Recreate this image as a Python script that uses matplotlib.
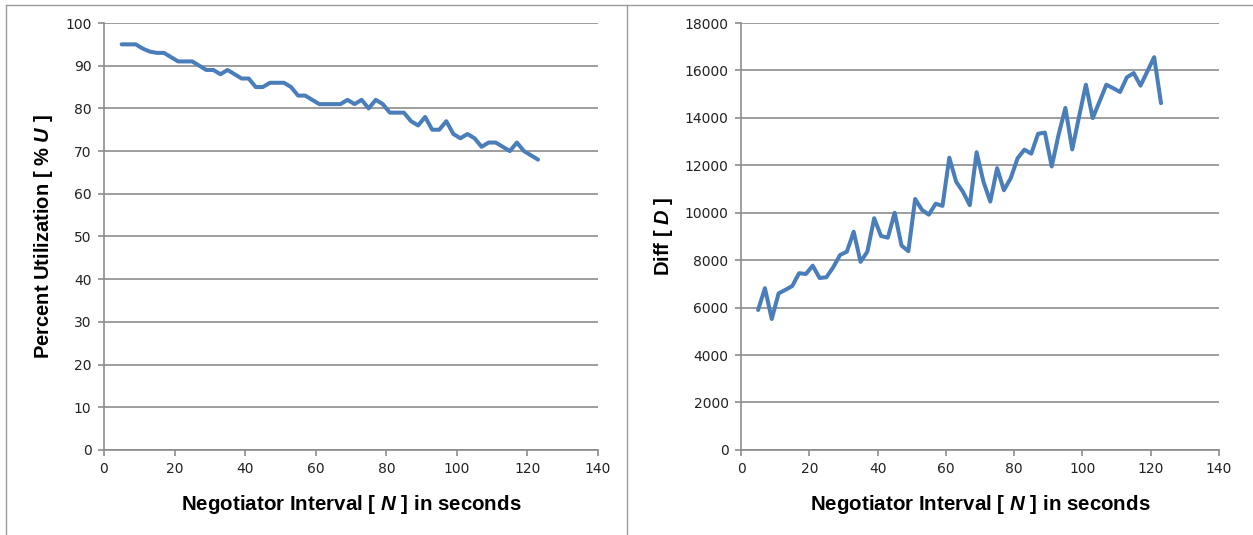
import matplotlib
matplotlib.use('Agg')
import matplotlib.pyplot as plt
from matplotlib.lines import Line2D

# negotiator interval N (seconds)
interval = list(range(5, 124, 2))

# percent utilization U for each interval
utilization = [95, 95, 95, 94, 93.3, 93, 93, 92, 91, 91,
               91, 90, 89, 89, 88, 89, 88, 87, 87, 85,
               85, 86, 86, 86, 85, 83, 83, 82, 81, 81,
               81, 81, 82, 81, 82, 80, 82, 81, 79, 79,
               79, 77, 76, 78, 75, 75, 77, 74, 73, 74,
               73, 71, 72, 72, 71, 70, 72, 70, 69, 68]

# diff D for each interval
diff = [5900, 6820, 5520, 6600, 6750, 6910, 7450, 7420, 7770, 7250,
        7280, 7700, 8220, 8360, 9200, 7930, 8360, 9770, 9020, 8950,
        10000, 8620, 8380, 10580, 10120, 9920, 10380, 10290, 12320, 11310,
        10880, 10320, 12550, 11310, 10470, 11880, 10950, 11460, 12300, 12660,
        12490, 13330, 13380, 11950, 13290, 14420, 12670, 14050, 15400, 13990,
        14690, 15400, 15250, 15090, 15710, 15890, 15360, 15960, 16560, 14620]

x_ticks = list(range(0, 141, 20))
util_ticks = list(range(0, 101, 10))
diff_ticks = list(range(0, 18001, 2000))

LINE = '#4a7ebb'
GRID = '#8c8c8c'
LABEL_FONT = ['Liberation Sans', 'DejaVu Sans']

plt.rcParams['font.family'] = ['DejaVu Sans']
plt.rcParams['mathtext.fontset'] = 'custom'
plt.rcParams['mathtext.it'] = 'Liberation Sans:italic:bold'
plt.rcParams['mathtext.rm'] = 'Liberation Sans:bold'

fig = plt.figure(figsize=(12.53, 5.35), dpi=100)


def style_axis(ax, xs, ys, yticks, ymax, ylabel):
    ax.plot(xs, ys, color=LINE, linewidth=2.9, solid_joinstyle='round',
            solid_capstyle='round', zorder=3)
    ax.set_xlim(0, 140)
    ax.set_ylim(0, ymax)
    ax.set_xticks(x_ticks)
    ax.set_yticks(yticks)
    ax.yaxis.grid(True, color=GRID, linewidth=1.2)
    ax.set_axisbelow(True)
    for side in ('top', 'right'):
        ax.spines[side].set_visible(False)
    for side in ('left', 'bottom'):
        ax.spines[side].set_color(GRID)
        ax.spines[side].set_linewidth(1.2)
    ax.tick_params(axis='both', direction='out', length=4, width=1.2,
                   color=GRID, labelsize=10, labelcolor='#222222', pad=5)
    ax.set_xlabel(r'Negotiator Interval [ $\mathit{N}$ ] in seconds',
                  fontsize=14.8, fontweight='bold', family=LABEL_FONT,
                  labelpad=12)
    ax.set_ylabel(ylabel, fontsize=14.5, fontweight='bold',
                  family=LABEL_FONT, labelpad=7)


ax1 = fig.add_axes([0.083, 0.159, 0.3943, 0.798])
style_axis(ax1, interval, utilization, util_ticks, 100,
           r'Percent Utilization [ % $\mathit{U}$ ]')

ax2 = fig.add_axes([0.5914, 0.159, 0.3815, 0.798])
style_axis(ax2, interval, diff, diff_ticks, 18000,
           r'Diff [ $\mathit{D}$ ]')

# chart frames around the two panels
frame = dict(color='#9a9a9a', linewidth=1.0, transform=fig.transFigure)
px = lambda v: v / 1253
py = lambda v: 1 - v / 535
fig.add_artist(Line2D([px(6), px(1253)], [py(5), py(5)], **frame))
fig.add_artist(Line2D([px(6), px(6)], [py(5), 0], **frame))
fig.add_artist(Line2D([px(627), px(627)], [py(5), 0], **frame))

fig.savefig('out.png', dpi=100)
